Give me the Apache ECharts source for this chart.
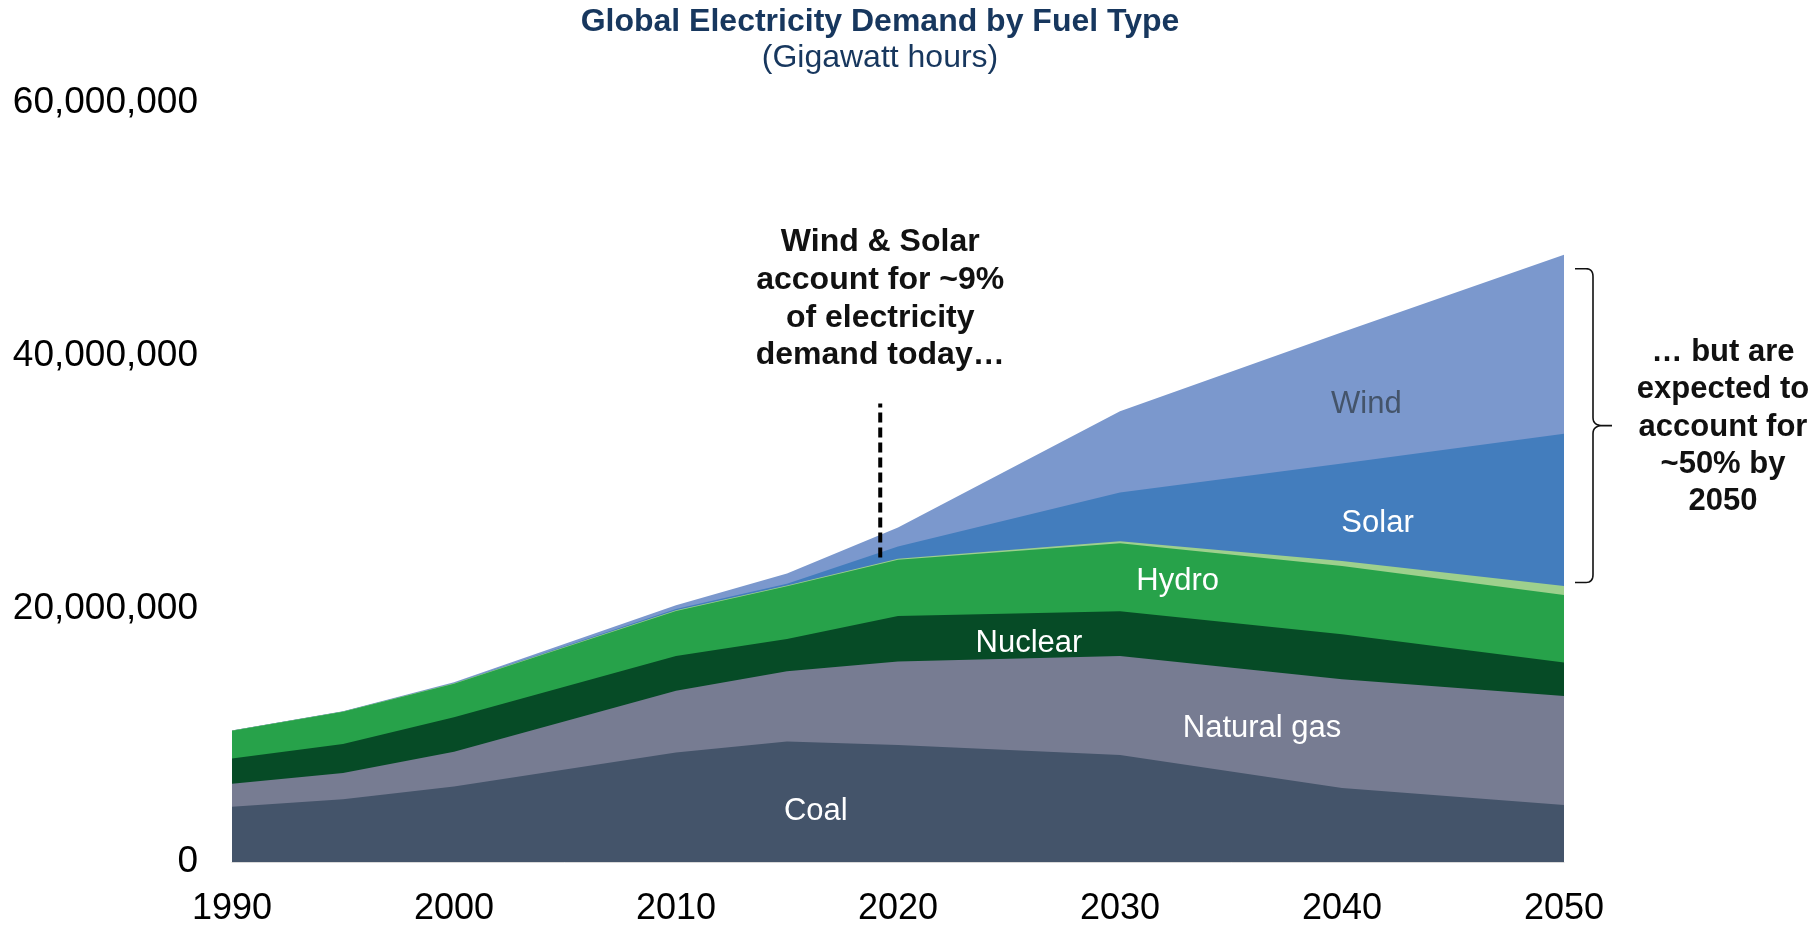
<!DOCTYPE html>
<html><head><meta charset="utf-8">
<script src="https://cdn.jsdelivr.net/npm/echarts@6/dist/echarts.min.js"></script>
<style>html,body{margin:0;padding:0;background:#fff}#c{width:1818px;height:927px}</style>
</head><body><div id="c"></div>
<script>
// ---- data (GWh) ----
const years   = [1990, 1995, 2000, 2010, 2015, 2020, 2030, 2040, 2050];
const coal    = [4370000, 4970000, 5970000, 8660000, 9530000, 9240000, 8450000, 5840000, 4500000];
const gas     = [1810000, 2060000, 2740000, 4870000, 5550000, 6600000, 7840000, 8610000, 8630000];
const nuclear = [2000000, 2290000, 2740000, 2760000, 2550000, 3610000, 3530000, 3550000, 2640000];
const hydro   = [2190000, 2550000, 2650000, 3560000, 4170000, 4450000, 5380000, 5400000, 5330000];
const other   = [20000, 30000, 30000, 50000, 60000, 80000, 150000, 400000, 720000];
const solar   = [0, 0, 10000, 100000, 140000, 970000, 3850000, 7700000, 12040000];
const wind    = [10000, 20000, 60000, 300000, 800000, 1500000, 6430000, 10380000, 14140000];
const seriesNames = ['Coal', 'Natural gas', 'Nuclear', 'Hydro', 'Other', 'Solar', 'Wind'];
const xTicks = [1990, 2000, 2010, 2020, 2030, 2040, 2050];
const yTicks = [0, 20000000, 40000000, 60000000];
const todayYear = 2019.2;
const todayLineValues = [24080000, 36240000];
const bracketValues = [22100000, 46900000];

const titleText = 'Global Electricity Demand by Fuel Type';
const subtitleText = '(Gigawatt hours)';
const noteLeft = 'Wind & Solar\naccount for ~9%\nof electricity\ndemand today…';
const noteRight = '… but are\nexpected to\naccount for\n~50% by\n2050';

// ---- styling ----
const FONT = '"Liberation Sans", Arial, Helvetica, sans-serif';
const colors = ['#44546A', '#777C92', '#064B26', '#27A24A', '#9ED08D', '#437DBD', '#7B98CD'];
const labelSpots = [ // [year, value] where each series name is written
  [2016.3, 4000000], [2036.4, 10580000], [2025.9, 17280000], [2032.6, 22200000], null,
  [2041.6, 26750000], [2041.1, 36150000]
];
const labelColors = ['#fff', '#fff', '#fff', '#fff', '#fff', '#fff', '#44546A'];

const valueSets = [coal, gas, nuclear, hydro, other, solar, wind];

// cumulative (stacked) tops, computed from the series arrays
const cumulative = [];
valueSets.forEach((vals, k) => {
  cumulative.push(vals.map((v, i) => v + (k > 0 ? cumulative[k - 1][i] : 0)));
});

const chart = echarts.init(document.getElementById('c'), null, {renderer: 'canvas'});

// draw from top layer (Wind) down to Coal so each lower layer covers the upper one's fill
const series = [];
for (let k = valueSets.length - 1; k >= 0; k--) {
  series.push({
    name: seriesNames[k],
    type: 'line',
    symbol: 'none',
    silent: true,
    z: 2,
    lineStyle: {width: 0},
    areaStyle: {color: colors[k], opacity: 1, origin: 'start'},
    data: years.map((y, i) => [y, cumulative[k][i]])
  });
}

series.push({
  name: 'today',
  type: 'line',
  symbol: 'none',
  silent: true,
  z: 10,
  lineStyle: {color: '#000', width: 4, type: [10, 5]},
  data: todayLineValues.map(v => [todayYear, v])
});

const option = {
  animation: false,
  backgroundColor: '#fff',
  grid: {left: 232, right: 254, top: 103, bottom: 64, containLabel: false},
  xAxis: {
    type: 'value', min: xTicks[0], max: xTicks[xTicks.length - 1], interval: 10,
    axisLine: {show: true, lineStyle: {color: '#d9d9d9', width: 1}},
    axisTick: {show: false},
    splitLine: {show: false},
    axisLabel: {
      show: true, showMinLabel: true, showMaxLabel: true,
      margin: 29, fontSize: 36, lineHeight: 36, color: '#000', fontFamily: FONT,
      formatter: v => String(v)
    }
  },
  yAxis: {
    type: 'value', min: yTicks[0], max: yTicks[yTicks.length - 1], interval: 20000000,
    axisLine: {show: false}, axisTick: {show: false}, splitLine: {show: false},
    axisLabel: {
      margin: 34, fontSize: 37, color: '#000', fontFamily: FONT,
      formatter: v => v.toLocaleString('en-US')
    }
  },
  series: series
};
chart.setOption(option);

// ---- annotations ----
const g = [];
const px = (x, y) => chart.convertToPixel({gridIndex: 0}, [x, y]);
const center = {align: 'center', verticalAlign: 'middle'};

g.push({type: 'text', x: 880, y: 22, z: 100, style: Object.assign({
  text: titleText, fill: '#17375E', font: 'bold 32px ' + FONT}, center)});
g.push({type: 'text', x: 880, y: 58, z: 100, style: Object.assign({
  text: subtitleText, fill: '#17375E', font: '32px ' + FONT}, center)});

labelSpots.forEach((s, k) => {
  if (!s) return;
  const p = px(s[0], s[1]);
  g.push({type: 'text', x: p[0], y: p[1], z: 100, style: Object.assign({
    text: seriesNames[k], fill: labelColors[k], font: '31px ' + FONT}, center)});
});

const pToday = px(todayYear, 0);
g.push({type: 'text', x: pToday[0], y: 299, z: 100, style: Object.assign({
  text: noteLeft, fill: '#111', font: 'bold 32px ' + FONT, lineHeight: 37.7}, center)});

// curly bracket built from short quadratic curves sampled into a polyline
const pTop = px(2050, bracketValues[1]);
const pBot = px(2050, bracketValues[0]);
const x0 = pTop[0] + 11, xs = x0 + 18, xt = x0 + 37;
const yT = pTop[1], yB = pBot[1], ym = (yT + yB) / 2;
function quad(a, c, b, n) {
  const out = [];
  for (let i = 1; i <= n; i++) {
    const t = i / n;
    out.push([(1 - t) * (1 - t) * a[0] + 2 * t * (1 - t) * c[0] + t * t * b[0],
              (1 - t) * (1 - t) * a[1] + 2 * t * (1 - t) * c[1] + t * t * b[1]]);
  }
  return out;
}
let pts = [[x0, yT], [xs - 7, yT]];
pts = pts.concat(quad([xs - 7, yT], [xs, yT], [xs, yT + 8], 8));
pts.push([xs, ym - 8]);
pts = pts.concat(quad([xs, ym - 8], [xs, ym], [xs + 10, ym], 8));
pts.push([xt, ym]);
pts.push([xs + 10, ym]);
pts = pts.concat(quad([xs + 10, ym], [xs, ym], [xs, ym + 8], 8));
pts.push([xs, yB - 8]);
pts = pts.concat(quad([xs, yB - 8], [xs, yB], [xs - 7, yB], 8));
pts.push([x0, yB]);
g.push({type: 'polyline', z: 100, shape: {points: pts},
  style: {fill: null, stroke: '#111', lineWidth: 1.6}});

g.push({type: 'text', x: 1723, y: 427, z: 100, style: Object.assign({
  text: noteRight, fill: '#111', font: 'bold 31px ' + FONT, lineHeight: 37.2}, center)});

chart.setOption({graphic: {elements: g}});
</script>
</body></html>
